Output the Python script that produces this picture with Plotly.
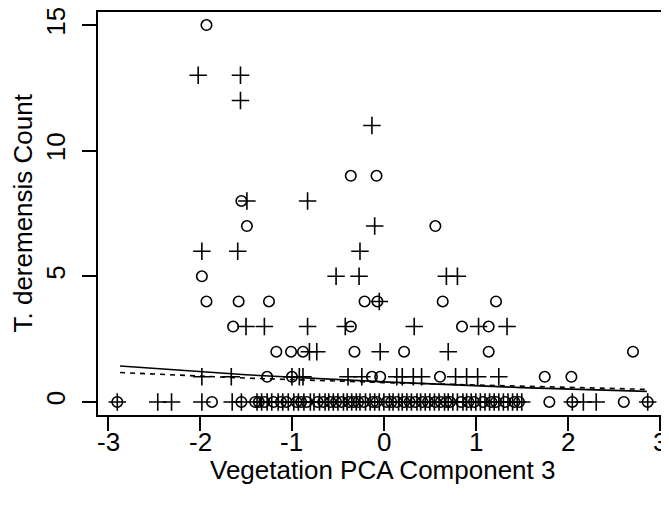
import plotly.graph_objects as go

# ---- data ----
# Group drawn with open circles
circle_x = [-1.93,
            -0.36, -0.08,
            -1.55,
            -1.49, 0.56,
            -1.98,
            -1.93, -1.58, -1.25, -0.21, -0.07, 0.64, 1.22,
            -1.64, -0.36, 0.85, 1.14,
            -1.17, -1.01, -0.88, -0.32, 0.22, 1.14, 2.71,
            -1.27, -1.0, -0.13, -0.04, 0.61, 1.75, 2.04,
            -2.9, -1.87, -1.55,
            -1.4, -1.36, -1.3, -1.2, -1.12, -1.06, -0.95, -0.9, -0.84, -0.72,
            -0.66, -0.58, -0.52, -0.46, -0.38, -0.33, -0.28, -0.22, -0.12, -0.08,
            0.03, 0.08, 0.14, 0.22, 0.28, 0.34, 0.42, 0.48, 0.56, 0.62, 0.68,
            0.72, 0.84, 0.92, 0.98, 1.08, 1.17, 1.22, 1.32, 1.42, 1.47,
            1.8, 2.05, 2.61, 2.87]
circle_y = [15,
            9, 9,
            8,
            7, 7,
            5,
            4, 4, 4, 4, 4, 4, 4,
            3, 3, 3, 3,
            2, 2, 2, 2, 2, 2, 2,
            1, 1, 1, 1, 1, 1, 1,
            0, 0, 0,
            0, 0, 0, 0, 0, 0, 0, 0, 0, 0,
            0, 0, 0, 0, 0, 0, 0, 0, 0, 0,
            0, 0, 0, 0, 0, 0, 0, 0, 0, 0, 0,
            0, 0, 0, 0, 0, 0, 0, 0, 0, 0,
            0, 0, 0, 0]

# Group drawn with plus signs
cross_x = [-2.02, -1.56,
           -1.56,
           -0.13,
           -1.49, -0.83,
           -0.1,
           -1.98, -1.59, -0.26,
           -0.52, -0.27, 0.68, 0.8,
           -0.05,
           -1.5, -1.3, -0.83, -0.42, 0.33, 1.03, 1.34,
           -0.81, -0.73, -0.04, 0.7,
           -1.98, -1.66, -1.0, -0.92, -0.88, -0.39, -0.24, 0.14, 0.2, 0.32,
           0.41, 0.78, 0.9, 1.02, 1.25,
           -2.9, -2.46, -2.31, -1.98, -1.65, -1.55,
           -1.38, -1.33, -1.27, -1.22, -1.15, -1.1, -1.04, -0.98, -0.93, -0.87,
           -0.8, -0.76, -0.7, -0.64, -0.6, -0.55, -0.5, -0.44, -0.4, -0.35,
           -0.3, -0.26, -0.2, -0.15, -0.1, -0.05, 0.0, 0.06, 0.1, 0.16,
           0.2, 0.25, 0.3, 0.36, 0.4, 0.45, 0.5, 0.55, 0.6, 0.66,
           0.7, 0.75, 0.8, 0.86, 0.9, 0.95, 1.0, 1.05, 1.1, 1.15,
           1.2, 1.25, 1.3, 1.35, 1.4, 1.45, 1.5,
           2.05, 2.17, 2.31, 2.87]
cross_y = [13, 13,
           12,
           11,
           8, 8,
           7,
           6, 6, 6,
           5, 5, 5, 5,
           4,
           3, 3, 3, 3, 3, 3, 3,
           2, 2, 2, 2,
           1, 1, 1, 1, 1, 1, 1, 1, 1, 1,
           1, 1, 1, 1, 1,
           0, 0, 0, 0, 0, 0,
           0, 0, 0, 0, 0, 0, 0, 0, 0, 0,
           0, 0, 0, 0, 0, 0, 0, 0, 0, 0,
           0, 0, 0, 0, 0, 0, 0, 0, 0, 0,
           0, 0, 0, 0, 0, 0, 0, 0, 0, 0,
           0, 0, 0, 0, 0, 0, 0, 0, 0, 0,
           0, 0, 0, 0, 0, 0, 0,
           0, 0, 0, 0]

# Fitted curves
fit_x = [-2.87, -1.5, 0.0, 1.5, 2.86]
fit_solid_y = [1.43, 1.08, 0.8, 0.57, 0.42]
fit_dashed_y = [1.17, 0.95, 0.77, 0.62, 0.5]

x_ticks = [-3, -2, -1, 0, 1, 2, 3]
x_tick_labels = ["-3", "-2", "-1", "0", "1", "2", "3"]
y_ticks = [0, 5, 10, 15]
y_tick_labels = ["0", "5", "10", "15"]

x_title = "Vegetation PCA Component 3"
y_title = "T. deremensis Count"

FONT = "Liberation Sans, Arial, sans-serif"
FS = 26

fig = go.Figure()
fig.add_trace(go.Scatter(x=fit_x, y=fit_solid_y, mode="lines",
                         line=dict(color="black", width=1.6), showlegend=False))
fig.add_trace(go.Scatter(x=fit_x, y=fit_dashed_y, mode="lines",
                         line=dict(color="black", width=1.6, dash="5px,5px"),
                         showlegend=False))
fig.add_trace(go.Scatter(x=circle_x, y=circle_y, mode="markers",
                         marker=dict(symbol="circle-open", size=10.5, color="black",
                                     line=dict(width=1.6, color="black")),
                         showlegend=False))
fig.add_trace(go.Scatter(x=cross_x, y=cross_y, mode="markers",
                         marker=dict(symbol="cross-thin-open", size=12.5, color="black",
                                     line=dict(width=1.6, color="black")),
                         showlegend=False))

# x tick labels placed just below the ticks (R style)
annotations = [
    dict(text=lab, xref="x", yref="paper", x=val, y=0,
         xanchor="center", yanchor="middle", yshift=-27, showarrow=False,
         font=dict(size=FS))
    for val, lab in zip(x_ticks, x_tick_labels)
]
annotations += [
    dict(text=x_title, xref="paper", yref="paper", x=0.5, y=0,
         xanchor="center", yanchor="middle", yshift=-55, showarrow=False,
         font=dict(size=FS)),
    dict(text=y_title, xref="paper", yref="paper", x=0, y=0.5,
         xanchor="center", yanchor="middle", xshift=-76, textangle=-90,
         showarrow=False, font=dict(size=FS)),
]

# the page body adds an 8px offset; margins below compensate for it
fig.update_layout(
    width=669, height=514,
    margin=dict(l=90, r=10, t=4, b=107),
    paper_bgcolor="white", plot_bgcolor="white",
    font=dict(family=FONT, size=FS, color="black"),
    xaxis=dict(range=[-3.11, 3.08], tickvals=x_ticks, showticklabels=False,
               showgrid=False, zeroline=False, showline=True, mirror=True,
               linecolor="black", linewidth=1.6, ticks="outside", ticklen=14,
               tickwidth=1.6, tickcolor="black", automargin=False),
    yaxis=dict(range=[-0.52, 15.52], tickvals=y_ticks, ticktext=y_tick_labels,
               tickangle=-90, ticklabeloverflow="allow", ticklabelstandoff=7,
               showgrid=False, zeroline=False, showline=True, mirror=True,
               linecolor="black", linewidth=1.6, ticks="outside", ticklen=14,
               tickwidth=1.6, tickcolor="black", automargin=False),
    annotations=annotations,
)

fig.write_html("out.html")
